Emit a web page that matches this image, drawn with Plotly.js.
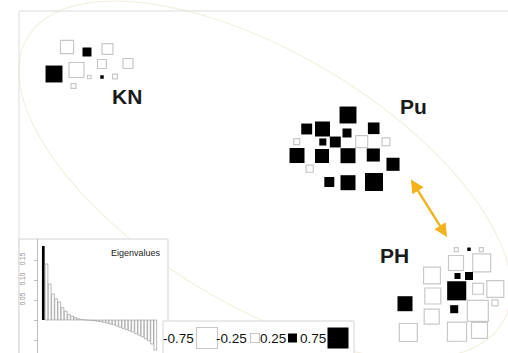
<!DOCTYPE html>
<html><head><meta charset="utf-8">
<script src="https://cdn.plot.ly/plotly-3.0.1.min.js"></script>
<style>html,body{margin:0;padding:0;background:#fff}#chart{width:508px;height:353px}</style>
</head><body><div id="chart"></div>
<script>
// Factorial map scores (plot units) and signed values of the variable
const knX = [67, 87, 107.5, 54, 76.5, 102, 128, 89.3, 102, 115, 73.5];
const knY = [47, 52, 49, 74, 70, 64, 63.5, 77, 77, 76.5, 86];
const knZ = [-0.42, 0.25, -0.33, 0.58, -0.5, -0.25, -0.29, -0.02, 0.02, -0.08, -0.08];

const puX = [348, 306.7, 322.5, 347, 373.7, 296.7, 322.8, 335.3, 361.7, 386, 297, 322, 348, 373.3, 309.7, 393, 329.3, 348, 374];
const puY = [115, 129, 129, 133, 128.3, 141.7, 142, 142, 141.7, 141.7, 155.5, 156, 155.7, 155, 168.7, 164.3, 182, 182.7, 182];
const puZ = [0.58, 0.33, 0.5, 0.25, 0.36, -0.125, 0.17, 0.33, -0.375, -0.2, 0.5, 0.46, 0.5, 0.42, -0.17, 0.42, 0.29, 0.5, 0.625];

const phX = [456.3, 469, 481.3, 456, 481.7, 432, 457.5, 469, 456.7, 478, 495.3, 432.8, 405, 495, 454.2, 477.8, 431.7, 408.3, 457, 479.5];
const phY = [249.7, 249.3, 249.7, 263, 262.8, 275.5, 276, 276, 290.8, 288.8, 289, 296, 303.7, 302.8, 309.2, 310.8, 316.7, 332.5, 331.7, 330.3];
const phZ = [-0.04, 0.02, -0.04, -0.5, -0.625, -0.58, 0.125, 0.21, 0.67, -0.33, -0.58, -0.54, 0.5, -0.125, 0.21, -0.75, -0.5, -0.625, -0.67, -0.54];

const groupNames = ["KN", "Pu", "PH"];
const groupLabelX = [127, 413, 394];
const groupLabelY = [96, 106, 255];

const legendValues = [-0.75, -0.25, 0.25, 0.75];
const legendLabels = ["-0.75", "-0.25", "0.25", "0.75"];

const eigenvalues = [0.185, 0.14, 0.09, 0.065, 0.053, 0.045, 0.031, 0.022, 0.014, 0.01, 0.006, 0.003,
  0.001, 0.0005, -0.0005, -0.001, -0.002, -0.003, -0.004, -0.006, -0.008, -0.01, -0.012, -0.015,
  -0.018, -0.021, -0.024, -0.027, -0.03, -0.034, -0.038, -0.042, -0.047, -0.052, -0.06, -0.075];
const eigTicks = [-0.05, 0, 0.05, 0.10, 0.15];
const eigTickText = ["", "", "0.05", "0.10", "0.15"];

// ---------------------------------------------------------------
const sizeOf = z => 3 + 24 * Math.abs(z);
function valueTrace(xs, ys, zs) {
  return {
    type: 'scatter', mode: 'markers', x: xs, y: ys, xaxis: 'x', yaxis: 'y',
    hoverinfo: 'skip', showlegend: false,
    marker: {
      symbol: 'square', opacity: 1,
      size: zs.map(sizeOf),
      color: zs.map(z => z > 0 ? '#000000' : '#ffffff'),
      line: { width: zs.map(z => z > 0 ? 0 : 1.2), color: '#c8c8c8' }
    }
  };
}
const allX = knX.concat(puX, phX), allY = knY.concat(puY, phY), allZ = knZ.concat(puZ, phZ);

// legend positions (layout)
const legX = [207, 255, 292.5, 338];
const legY = legendValues.map(() => 338);
const legTextX = [196, 249, 288, 328];

const traces = [valueTrace(allX, allY, allZ), valueTrace(legX, legY, legendValues)];

traces.push({
  type: 'bar', x: eigenvalues.map((v, i) => i), y: eigenvalues, xaxis: 'x2', yaxis: 'y2',
  width: 0.85, hoverinfo: 'skip', showlegend: false,
  marker: { opacity: 1, color: eigenvalues.map((v, i) => i === 0 ? '#000' : '#fff'),
            line: { color: '#9a9a9a', width: eigenvalues.map((v, i) => i === 0 ? 0 : 0.7) } }
});

// inertia ellipse from parameters
const ell = { cx: 265, cy: 180, a: 277, b: 126, angleDeg: 31 };
function ellipsePath(e) {
  const t = e.angleDeg * Math.PI / 180; let p = '';
  for (let k = 0; k <= 120; k++) {
    const s = 2 * Math.PI * k / 120;
    const x = e.cx + e.a * Math.cos(s) * Math.cos(t) - e.b * Math.sin(s) * Math.sin(t);
    const y = e.cy + e.a * Math.cos(s) * Math.sin(t) + e.b * Math.sin(s) * Math.cos(t);
    p += (k ? 'L' : 'M') + x.toFixed(1) + ',' + y.toFixed(1);
  }
  return p + 'Z';
}

const shapes = [
  { type: 'path', path: ellipsePath(ell), xref: 'x', yref: 'y', layer: 'below', line: { color: '#f4f0df', width: 1.2 } },
  { type: 'rect', xref: 'x', yref: 'y', x0: 19, y0: 11, x1: 540, y1: 400, layer: 'below', line: { color: '#dcdcdc', width: 1 } },
  { type: 'rect', xref: 'x', yref: 'y', x0: 19, y0: 239, x1: 168, y1: 400, layer: 'below', fillcolor: '#fff', line: { color: '#d4d4d4', width: 1 } },
  { type: 'rect', xref: 'x', yref: 'y', x0: 163, y0: 321, x1: 354, y1: 400, layer: 'below', fillcolor: '#fff', line: { color: '#d4d4d4', width: 1 } }
];

const annotations = groupNames.map((g, i) => ({
  x: groupLabelX[i], y: groupLabelY[i], xref: 'x', yref: 'y', text: g, showarrow: false,
  font: { family: 'Liberation Sans, Arial, sans-serif', size: 21, color: '#1a1a1a', weight: 'bold' },
  xanchor: 'center', yanchor: 'middle'
}));
legendLabels.forEach((t, i) => annotations.push({
  x: legTextX[i], y: 338, xref: 'x', yref: 'y', text: t, showarrow: false, xanchor: 'right', yanchor: 'middle',
  font: { family: 'Liberation Sans, Arial, sans-serif', size: 13.5, color: '#111' }
}));
annotations.push({
  x: 163, y: 253, xref: 'x', yref: 'y', text: 'Eigenvalues', showarrow: false, xanchor: 'right', yanchor: 'middle',
  font: { family: 'Liberation Sans, Arial, sans-serif', size: 9, color: '#222' }
});
annotations.push({
  x: 447, y: 237, ax: 410, ay: 178, xref: 'x', yref: 'y', axref: 'x', ayref: 'y', text: '',
  showarrow: true, arrowhead: 2, startarrowhead: 2, arrowside: 'end+start', arrowsize: 1.1, startarrowsize: 1.1,
  arrowwidth: 2.4, arrowcolor: '#f2b21c'
});

const layout = {
  width: 508, height: 353, margin: { l: 0, r: 0, t: 0, b: 0 },
  paper_bgcolor: '#fff', plot_bgcolor: 'rgba(0,0,0,0)', showlegend: false,
  xaxis: { range: [0, 508], domain: [0, 1], visible: false, fixedrange: true },
  yaxis: { range: [353, 0], domain: [0, 1], visible: false, fixedrange: true },
  xaxis2: { domain: [37 / 508, 168 / 508], range: [-1.97, 38.97], anchor: 'y2', visible: false },
  yaxis2: {
    domain: [0, (353 - 239) / 353], range: [-0.0825, 0.2025], anchor: 'free', position: 37 / 508,
    showgrid: false, zeroline: false, showline: true, linecolor: '#bdbdbd', linewidth: 1,
    ticks: 'outside', ticklen: 3, tickcolor: '#bdbdbd', tickvals: eigTicks, ticktext: eigTickText,
    tickangle: -90, ticklabelstandoff: 6,
    tickfont: { family: 'Liberation Sans, Arial, sans-serif', size: 6.5, color: '#888' }
  },
  shapes: shapes, annotations: annotations
};
Plotly.newPlot('chart', traces, layout, { staticPlot: true, displayModeBar: false });
</script></body></html>
